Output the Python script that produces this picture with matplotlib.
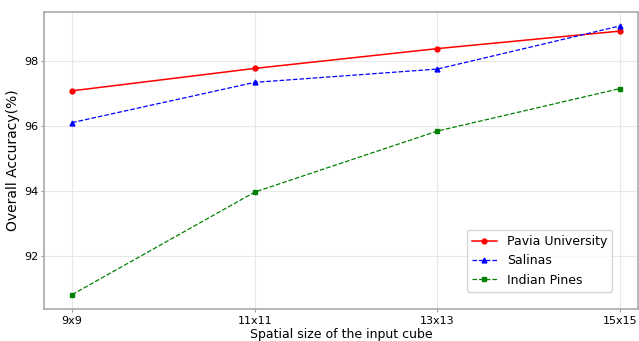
import matplotlib
matplotlib.use("Agg")
import matplotlib.pyplot as plt

sizes = ["9x9", "11x11", "13x13", "15x15"]
pavia = [97.08, 97.77, 98.38, 98.92]
salinas = [96.10, 97.34, 97.75, 99.08]
indian = [90.80, 93.96, 95.84, 97.15]

fig = plt.figure(figsize=(6.39, 3.41), dpi=100)
ax = fig.add_axes([0.069, 0.095, 0.93, 0.87])

x = range(len(sizes))
ax.plot(x, pavia, color="red", marker="o", markersize=3.5, linewidth=1.1, label="Pavia University")
ax.plot(x, salinas, color="blue", marker="^", markersize=3.5, linewidth=0.9, linestyle="--", label="Salinas")
ax.plot(x, indian, color="green", marker="s", markersize=3.5, linewidth=0.9, linestyle="--", label="Indian Pines")

ax.set_xticks(list(x))
ax.set_xticklabels(sizes)
ax.set_yticks([92, 94, 96, 98])
ax.set_xlim(-0.153, 3.1)
ax.set_ylim(90.37, 99.51)
ax.tick_params(labelsize=8, length=2, color="#999999")
ax.tick_params(axis="y", pad=2)
ax.grid(True, color="#e8e8e8", linewidth=0.8)
for s in ax.spines.values():
    s.set_color("#aaaaaa")
    s.set_linewidth(1.2)

ax.set_xlabel("Spatial size of the input cube", fontsize=9, labelpad=1)
ax.set_ylabel("Overall Accuracy(%)", fontsize=10)
ax.yaxis.set_label_coords(-0.041, 0.5)
ax.legend(loc="lower right", fontsize=9, borderaxespad=0, bbox_to_anchor=(0.956, 0.057))

fig.savefig("out.png")
